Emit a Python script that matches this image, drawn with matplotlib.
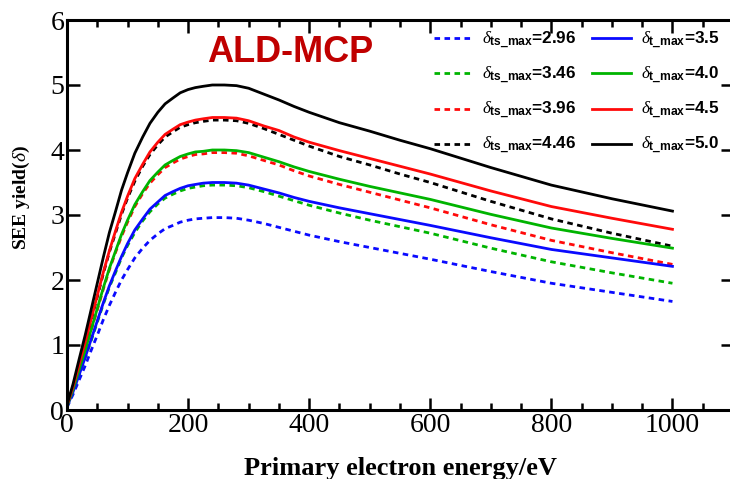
import matplotlib
matplotlib.use("Agg")
import matplotlib.pyplot as plt
from matplotlib.ticker import MultipleLocator

plt.rcParams['mathtext.fontset'] = 'custom'
plt.rcParams['mathtext.rm'] = 'Liberation Sans:bold'
plt.rcParams['mathtext.it'] = 'Liberation Serif:italic'
plt.rcParams['mathtext.bf'] = 'Liberation Sans:bold'

# Primary electron energy (eV)
energy = [0, 10, 20, 30, 40, 50, 60, 70, 80, 90, 100, 112, 125, 137, 150, 162, 175, 187, 200, 212, 225, 240, 260,
          280, 300, 325, 350, 375, 400, 450, 500, 550, 600, 700, 800, 900, 1000]

# true secondary yield (dashed)
ts_296 = [0.04, 0.24, 0.46, 0.68, 0.92, 1.15, 1.39, 1.61, 1.81, 2.00, 2.16, 2.34, 2.49, 2.61, 2.71, 2.79, 2.84,
          2.89, 2.92, 2.94, 2.95, 2.96, 2.96,
          2.95, 2.92, 2.87, 2.81, 2.75, 2.69, 2.59, 2.50, 2.41, 2.32, 2.13, 1.95, 1.81, 1.67]
ts_346 = [0.05, 0.28, 0.54, 0.80, 1.07, 1.35, 1.63, 1.89, 2.11, 2.34, 2.53, 2.73, 2.91, 3.05, 3.17, 3.26, 3.32,
          3.37, 3.41, 3.43, 3.45, 3.46, 3.46,
          3.45, 3.42, 3.36, 3.29, 3.22, 3.15, 3.03, 2.92, 2.82, 2.72, 2.49, 2.28, 2.11, 1.95]
ts_396 = [0.06, 0.32, 0.61, 0.91, 1.23, 1.54, 1.86, 2.16, 2.42, 2.67, 2.89, 3.13, 3.33, 3.49, 3.62, 3.73, 3.80,
          3.86, 3.90, 3.93, 3.94, 3.96, 3.96,
          3.95, 3.91, 3.84, 3.77, 3.68, 3.60, 3.47, 3.35, 3.23, 3.11, 2.85, 2.61, 2.42, 2.24]
ts_446 = [0.07, 0.36, 0.69, 1.03, 1.38, 1.74, 2.10, 2.43, 2.72, 3.01, 3.26, 3.52, 3.75, 3.93, 4.08, 4.20, 4.28,
          4.35, 4.39, 4.42, 4.44, 4.46, 4.46,
          4.45, 4.41, 4.33, 4.24, 4.15, 4.06, 3.90, 3.77, 3.63, 3.50, 3.21, 2.94, 2.72, 2.52]

# total yield (solid)
t_35 = [0.05, 0.28, 0.54, 0.81, 1.09, 1.37, 1.65, 1.91, 2.14, 2.36, 2.56, 2.77, 2.94, 3.09, 3.20, 3.30, 3.36,
        3.41, 3.45, 3.47, 3.49, 3.50, 3.50,
        3.49, 3.46, 3.40, 3.34, 3.27, 3.21, 3.11, 3.02, 2.93, 2.84, 2.65, 2.47, 2.34, 2.21]
t_40 = [0.06, 0.32, 0.62, 0.92, 1.24, 1.56, 1.88, 2.18, 2.44, 2.70, 2.92, 3.16, 3.36, 3.53, 3.66, 3.77, 3.84,
        3.90, 3.94, 3.97, 3.98, 4.00, 4.00,
        3.99, 3.96, 3.89, 3.82, 3.74, 3.67, 3.55, 3.44, 3.34, 3.24, 3.01, 2.80, 2.64, 2.49]
t_45 = [0.07, 0.36, 0.70, 1.04, 1.40, 1.76, 2.12, 2.45, 2.75, 3.04, 3.29, 3.56, 3.78, 3.97, 4.12, 4.24, 4.32,
        4.39, 4.43, 4.46, 4.48, 4.50, 4.50,
        4.49, 4.45, 4.37, 4.30, 4.20, 4.12, 3.99, 3.87, 3.75, 3.63, 3.37, 3.13, 2.95, 2.78]
t_50 = [0.08, 0.40, 0.78, 1.15, 1.55, 1.95, 2.35, 2.73, 3.05, 3.38, 3.65, 3.95, 4.20, 4.41, 4.58, 4.71, 4.80,
        4.88, 4.93, 4.96, 4.98, 5.00, 5.00,
        4.99, 4.95, 4.86, 4.77, 4.67, 4.58, 4.42, 4.29, 4.15, 4.02, 3.73, 3.46, 3.25, 3.06]

ts_labels = ['2.96', '3.46', '3.96', '4.46']
t_labels = ['3.5', '4.0', '4.5', '5.0']
colors = ['#0a0aff', '#00b400', '#ff0a0a', '#000000']
x_ticks = [0, 200, 400, 600, 800, 1000]
y_ticks = [0, 1, 2, 3, 4, 5, 6]

fig = plt.figure(figsize=(7.30, 4.79), dpi=100)
ax = fig.add_axes([67/730, 1-410/479, (733-67)/730, (410-20)/479])

ts_series = [ts_296, ts_346, ts_396, ts_446]
t_series = [t_35, t_40, t_45, t_50]

handles = []
for ys, lab, c in zip(ts_series, ts_labels, colors):
    h, = ax.plot(energy, ys, color=c, lw=2.0, linestyle=(0, (2.0, 1.6)),
                 label=r'$\delta_{\mathrm{ts\_max}}$=' + lab)
    handles.append(h)
handles2 = []
for ys, lab, c in zip(t_series, t_labels, colors):
    h, = ax.plot(energy, ys, color=c, lw=2.0, linestyle='-',
                 label=r'$\delta_{\mathrm{t\_max}}$=' + lab)
    handles2.append(h)

ax.set_xlim(0, 1100)
ax.set_ylim(0, 6)
ax.set_xticks(x_ticks)
ax.set_yticks(y_ticks)
ax.xaxis.set_minor_locator(MultipleLocator(50))
ax.set_xticklabels([str(v) for v in x_ticks], fontfamily='Liberation Serif', fontsize=20)
ax.set_yticklabels([str(v) for v in y_ticks], fontfamily='Liberation Serif', fontsize=20)
ax.tick_params(which='both', direction='in', top=True, right=True, width=1.8)
ax.tick_params(which='major', length=9, pad=2)
ax.tick_params(which='minor', length=5)
for s in ax.spines.values():
    s.set_linewidth(2.2)

ax.set_xlabel('Primary electron energy/eV', fontfamily='Liberation Serif', fontweight='bold',
              fontsize=19, labelpad=14)
ax.set_ylabel(r'SEE yield($\delta$)', fontfamily='Liberation Serif', fontweight='bold',
              fontsize=14)
ax.yaxis.set_label_coords(-0.053, 0.546)

ax.text(369, 5.5, 'ALD-MCP', fontfamily='Liberation Sans', fontweight='bold', fontsize=26,
        color='#c00000', ha='center', va='center')

leg = fig.legend(handles + handles2, [h.get_label() for h in handles + handles2],
                 ncol=2, loc='upper left', bbox_to_anchor=(425/730, 1-21/479),
                 frameon=False, prop={'family': 'Liberation Sans', 'weight': 'bold', 'size': 12.3},
                 handlelength=2.28, handletextpad=0.58, columnspacing=0.88,
                 labelspacing=0.8, borderpad=0)

fig.savefig('out.png', dpi=100)
